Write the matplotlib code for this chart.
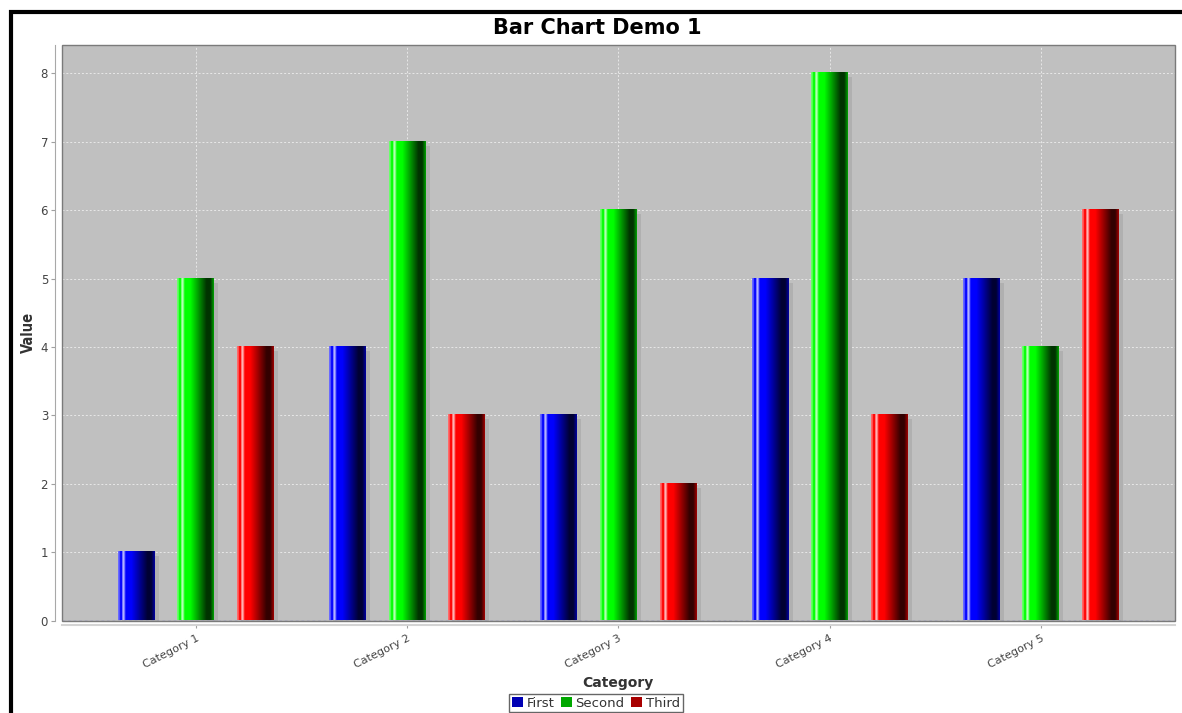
import numpy as np
import matplotlib
matplotlib.use("Agg")
import matplotlib.pyplot as plt
import matplotlib.transforms as mtransforms
from matplotlib.patches import Rectangle

# Data
categories = ["Category 1", "Category 2", "Category 3", "Category 4", "Category 5"]
series_names = ["First", "Second", "Third"]
first = [1, 4, 3, 5, 5]
second = [5, 7, 6, 8, 4]
third = [4, 3, 2, 3, 6]
y_ticks = [0, 1, 2, 3, 4, 5, 6, 7, 8]

series_values = [first, second, third]
base_colors = [(0.0, 0.0, 1.0), (0.0, 1.0, 0.0), (1.0, 0.0, 0.0)]
legend_colors = ["#0000b4", "#00a800", "#a80000"]

W, H = 1182, 713
fig = plt.figure(figsize=(W / 100, H / 100), dpi=100)
ax = fig.add_axes([62 / W, (H - 620.5) / H, (1174.5 - 62) / W, (620.5 - 45) / H])
ax.set_facecolor("#c0c0c0")


def bar_gradient(c0, n=400):
    """Horizontal 'cylinder' shading: pale highlight on the left, dark towards the right."""
    c0 = np.array(c0)
    white = np.ones(3)
    mix = lambda a, b, f: a * (1 - f) + b * f
    stops = [0.0, 0.04, 0.065, 0.10, 0.135, 0.17, 0.21, 0.36, 0.80, 0.90, 1.0]
    cols = [mix(c0, white, 0.45), mix(c0, white, 0.35), c0, c0,
            mix(c0, white, 0.8), mix(c0, white, 0.55), c0, c0,
            c0 * 0.2, c0 * 0.2, c0 * 0.65]
    cols = np.array(cols)
    t = np.linspace(0, 1, n)
    img = np.stack([np.interp(t, stops, cols[:, k]) for k in range(3)], axis=-1)
    return img[None, :, :]


x = np.arange(len(categories))
offsets = [-0.282, 0.0, 0.282]
width = 0.175
shadow_trans = mtransforms.offset_copy(ax.transData, fig=fig, x=4, y=-4, units="dots")

for vals, off, c0 in zip(series_values, offsets, base_colors):
    bars = ax.bar(x + off, vals, width, color="none", edgecolor="none", zorder=3)
    grad = bar_gradient(c0)
    for p in bars:
        x0, y0, w, h = p.get_x(), p.get_y(), p.get_width(), p.get_height()
        ax.add_patch(Rectangle((x0, y0), w, h, transform=shadow_trans,
                               facecolor="#b0b0b0", edgecolor="none", zorder=2))
        ax.imshow(grad, extent=(x0, x0 + w, y0, y0 + h), aspect="auto",
                  interpolation="antialiased", zorder=3)

ax.set_xlim(-0.634, 4.632)
ax.set_ylim(0, 8.414)

# Grid
ax.set_axisbelow(True)
ax.grid(True, color="#e8e8e8", linestyle=(0, (2, 2)), linewidth=0.7, zorder=1)
ax.axhline(0, color="#8282c8", linestyle=(0, (2, 2)), linewidth=1.0, zorder=4)

# Axes and outline
for s in ("top", "right"):
    ax.spines[s].set_visible(False)
ax.spines["left"].set_position(("outward", 5))
ax.spines["left"].set_color("#a8a8a8")
ax.spines["left"].set_linewidth(0.8)
ax.spines["bottom"].set_position(("outward", 3))
ax.spines["bottom"].set_color("#d4d4d4")
ax.spines["bottom"].set_linewidth(1.5)
ax.add_patch(Rectangle((0, 0), 1, 1, transform=ax.transAxes, fill=False,
                       edgecolor="#7a7a7a", linewidth=1.0, zorder=6, clip_on=False))

ax.set_yticks(y_ticks)
ax.set_yticklabels([str(v) for v in y_ticks])
ax.set_xticks(x)
ax.set_xticklabels(categories, rotation=27, ha="right", va="top", rotation_mode="anchor")
ax.tick_params(axis="y", length=3, width=0.8, color="#a0a0a0", labelsize=8.5,
               labelcolor="#444444", pad=2)
ax.tick_params(axis="x", length=2, width=0.8, color="#a0a0a0", labelsize=8,
               labelcolor="#444444", pad=4)

ax.set_ylabel("Value", fontsize=10.5, fontweight="bold", fontstretch="condensed",
              color="#333333", va="center")
ax.yaxis.set_label_coords(-0.0306, 0.5)
ax.set_xlabel("Category", fontsize=10, fontweight="bold", color="#333333", va="center")
ax.xaxis.set_label_coords(0.5, -0.1086)

# Title
fig.text(597 / W, (H - 28) / H, "Bar Chart Demo 1", ha="center", va="center",
         fontsize=15, fontweight="bold", color="black")

# Legend
handles = [Rectangle((0, 0), 1, 1, facecolor=c, edgecolor="none") for c in legend_colors]
leg = fig.legend(handles, series_names, loc="upper center", ncol=3,
                 bbox_to_anchor=(596 / W, (H - 694) / H), fontsize=9.5,
                 frameon=True, fancybox=False, handlelength=0.8, handleheight=0.8,
                 handletextpad=0.3, columnspacing=0.5, borderpad=0.2, borderaxespad=0)
leg.get_frame().set_edgecolor("#404040")
leg.get_frame().set_linewidth(1.0)
for t in leg.get_texts():
    t.set_color("#333333")

# Outer frame
fig.add_artist(Rectangle((11 / W, -0.1), 1.2, (H - 12) / H + 0.1, transform=fig.transFigure,
                         fill=False, edgecolor="black", linewidth=3.0))

fig.savefig("out.png", dpi=100)
